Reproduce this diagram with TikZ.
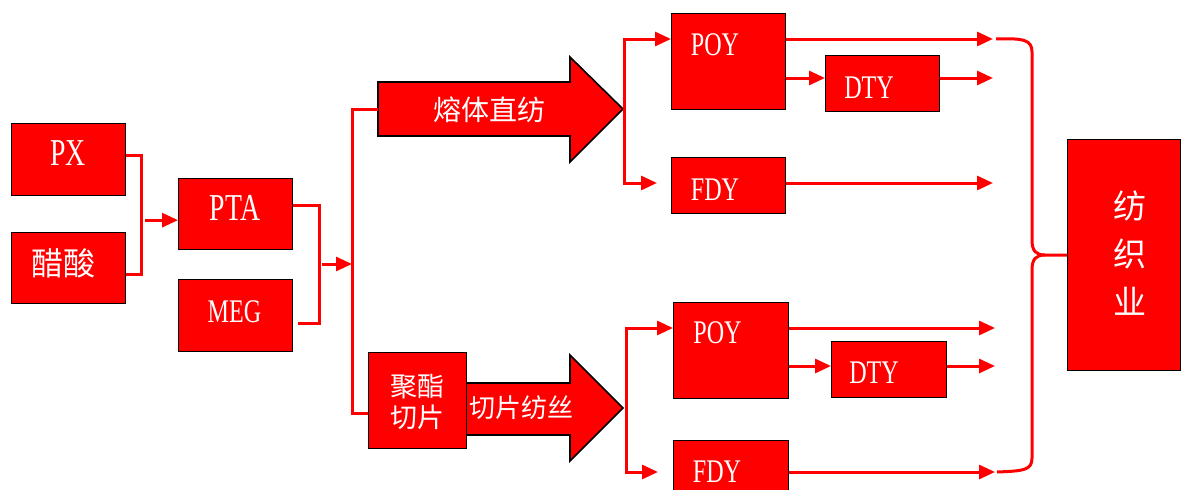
\documentclass[tikz,border=0pt]{standalone}
\usepackage{fontspec}
\usetikzlibrary{arrows.meta,calc}
\newfontfamily\cjk{Noto Sans CJK SC}
\newfontfamily\condserif[FakeStretch=0.73]{Liberation Serif}
\begin{document}
\begin{tikzpicture}[x=1pt,y=-1pt,
 box/.style={draw=black,line width=1.3pt,fill=red,inner sep=0pt,anchor=north west},
 conn/.style={draw=red,line width=3pt},
 arr/.style={conn,-{Triangle[length=16pt,width=14pt]}},
 lat/.style={text=white,font=\condserif\fontsize{33}{33}\selectfont,anchor=base,inner sep=0pt},
 latbig/.style={lat,font=\condserif\fontsize{38}{38}\selectfont},
 zh/.style={text=white,inner sep=0pt,font=\cjk\fontsize{28}{28}\selectfont},
 bigarrow/.style={draw=black,line width=1.6pt,fill=red,line join=miter}]
\useasboundingbox (0,0) rectangle (1181,490);

% named points
\coordinate (uaw) at (378,109);
\coordinate (uat) at (624,109);
\coordinate (lat) at (626,408);
\coordinate (trunk) at (352,264);
\coordinate (e1) at (993,39);
\coordinate (e2) at (993,78);
\coordinate (e3) at (993,183);
\coordinate (e4) at (995,328);
\coordinate (e5) at (995,366);
\coordinate (e6) at (995,472);
\coordinate (cusp) at (1045,255);

% big arrows
\draw[bigarrow] (378,82) -- (570,82) -- (570,57) -- (623,109) -- (570,162) -- (570,136) -- (378,136) -- cycle;
\draw[bigarrow] (440,383) -- (570,383) -- (570,355) -- (623,408) -- (570,461) -- (570,435) -- (440,435) -- cycle;

% boxes
\node[box,minimum width=114,minimum height=72] (px) at (11,123) {};
\node[box,minimum width=114,minimum height=71] (cs) at (11,232) {};
\node[box,minimum width=114,minimum height=71] (pta) at (178,178) {};
\node[box,minimum width=114,minimum height=72] (meg) at (178,279) {};
\node[box,minimum width=98,minimum height=96] (jz) at (368,352) {};
\node[box,minimum width=114,minimum height=96] (poya) at (671,13) {};
\node[box,minimum width=114,minimum height=56] (dtya) at (825,55) {};
\node[box,minimum width=114,minimum height=56] (fdya) at (671,157) {};
\node[box,minimum width=115,minimum height=96] (poyb) at (673,302) {};
\node[box,minimum width=115,minimum height=56] (dtyb) at (831,341) {};
\node[box,minimum width=115,minimum height=70] (fdyb) at (673,440) {};
\node[box,minimum width=113,minimum height=231] (fzy) at (1067,139) {};

% left connectors
\draw[conn] ([yshift=4pt]px.east) -- ++(15,0) |- ([yshift=-6pt]cs.east);
\draw[arr] ([xshift=-33pt,yshift=-6pt]pta.west) -- ([yshift=-6pt]pta.west);
\draw[conn] ([yshift=8.5pt]pta.east) -- ++(26,0) |- ([xshift=5pt,yshift=-8pt]meg.east);
\draw[arr] ([xshift=-30pt]trunk) -- (trunk);
\draw[conn] (uaw) -| (trunk) |- ([yshift=-13pt]jz.west);

% upper right
\draw[arr] (uat) |- (poya.west |- e1);
\draw[arr] (uat) |- ([xshift=-14pt]fdya.west |- e3);
\draw[arr] (poya.east |- e1) -- (e1);
\draw[arr] (poya.east |- e2) -- (dtya.west |- e2);
\draw[arr] (dtya.east |- e2) -- (e2);
\draw[arr] (fdya.east |- e3) -- (e3);

% lower right
\draw[arr] (lat) |- (poyb.west |- e4);
\draw[arr] (lat) |- ([xshift=-15pt]fdyb.west |- e6);
\draw[arr] (poyb.east |- e4) -- (e4);
\draw[arr] (poyb.east |- e5) -- (dtyb.west |- e5);
\draw[arr] (dtyb.east |- e5) -- (e5);
\draw[arr] (fdyb.east |- e6) -- (e6);

% brace
\draw[conn] ([xshift=3pt]e1) .. controls (1024,38) and (1032,40) .. (1032,52) -- (1032,240) .. controls (1032,251) and (1036,255) .. (cusp) -- (fzy.west |- cusp);
\draw[conn] (cusp) .. controls (1036,255) and (1032,259) .. (1032,270) -- (1032,458) .. controls (1032,470) and (1024,471) .. ([xshift=2pt]e6);

% texts
\node[latbig] (tpx) at (68,165) {PX};
\node[zh,font=\cjk\fontsize{32}{32}\selectfont] (tcs) at (63,263) {醋酸};
\node[latbig] (tpta) at (235,220) {PTA};
\node[lat] (tmeg) at (234.5,322) {MEG};
\node[zh] (trz) at (489,110) {熔体直纺};
\node[zh,font=\cjk\fontsize{26}{26}\selectfont] (tqp) at (521,408) {切片纺丝};
\node[zh,align=center,font=\cjk\fontsize{27}{31}\selectfont] (tjz) at (417,402) {聚酯\\切片};
\node[lat] (tpoya) at (715,55) {POY};
\node[lat] (tdtya) at (869,98) {DTY};
\node[lat] (tfdya) at (715,200) {FDY};
\node[lat] (tpoyb) at (717.5,343) {POY};
\node[lat] (tdtyb) at (874,383) {DTY};
\node[lat] (tfdyb) at (717,482) {FDY};
\node[zh,align=center,font=\cjk\fontsize{33}{48}\selectfont] (tfzy) at (1130,253) {纺\\织\\业};
\end{tikzpicture}
\end{document}
